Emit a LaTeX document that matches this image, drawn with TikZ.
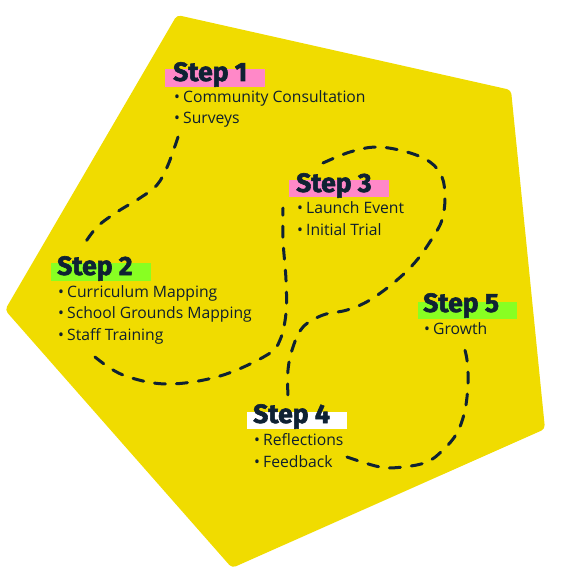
\documentclass[tikz,border=0pt]{standalone}
\usepackage{fontspec}
\setmainfont{Open Sans}
\newfontfamily\headfont{Fira Sans}[BoldFeatures={FakeBold=2.2}]
\definecolor{bgyellow}{HTML}{F0DC00}
\definecolor{navy}{HTML}{0F2233}
\definecolor{hlpink}{HTML}{FF88C8}
\definecolor{hlgreen}{HTML}{88FF22}
\tikzset{
  head/.style={anchor=base west, inner sep=0pt, text=navy, font=\headfont\bfseries\fontsize{26.5}{28}\selectfont},
  body/.style={anchor=base west, inner sep=0pt, text=navy!90!black, font=\fontsize{15.7}{18}\selectfont},
  trail/.style={draw=navy, line width=3pt, line cap=round, dash pattern=on 11pt off 11pt},
}
\newcommand{\bul}{\makebox[9pt][l]{•}}
\begin{document}
\begin{tikzpicture}[x=1pt,y=-1pt]
\useasboundingbox (0,0) rectangle (560,572);
% background pentagon
\fill[bgyellow, rounded corners=4pt] (177,15) -- (511,90) -- (545,429) -- (232,568) -- (5,310) -- cycle;
% highlight bars
\fill[hlpink]  (165,69) rectangle (265,87);
\fill[hlgreen] (51,263) rectangle (151,281);
\fill[hlpink]  (289,180) rectangle (389,197);
\fill[white]   (247,412) rectangle (347,429);
\fill[hlgreen] (418,302) rectangle (517,319);
% dashed trails
\coordinate (a0) at (178,137); \coordinate (a1) at (83,246);
\coordinate (b0) at (95,357);  \coordinate (b1) at (283,208);
\coordinate (c0) at (323,163); \coordinate (c1) at (288,398);
\coordinate (d0) at (347,457); \coordinate (d1) at (463,343);
\draw[trail] plot[smooth, tension=0.6] coordinates {(a0) (168,165) (157,185) (140,198) (117,212) (97,227) (a1)};
\draw[trail] plot[smooth, tension=0.6] coordinates {(b0) (123,375) (167,384) (220,376) (267,355) (280,340) (286,313) (286,280) (283,240) (b1)};
\draw[trail] plot[smooth, tension=0.6] coordinates {(c0) (350,152) (377,147) (407,152) (430,162) (442,177) (445,198) (442,220) (433,237) (417,260) (397,280) (370,300) (347,310) (323,315) (303,327) (293,347) (288,370) (c1)};
\draw[trail] plot[smooth, tension=0.6] coordinates {(d0) (380,467) (403,467) (427,462) (443,450) (457,433) (465,410) (468,383) (467,360) (d1)};
% step 1
\node[head] (s1) at (173,81) {Step 1};
\node[body] (s1a) at (174,103) {\bul Community Consultation};
\node[body] (s1b) at (174,124) {\bul Surveys};
% step 2
\node[head] (s2) at (57,275) {Step 2};
\node[body] (s2a) at (58,297) {\bul Curriculum Mapping};
\node[body] (s2b) at (58,318) {\bul School Grounds Mapping};
\node[body] (s2c) at (58,340) {\bul Staff Training};
% step 3
\node[head] (s3) at (296,192) {Step 3};
\node[body] (s3a) at (297,213) {\bul Launch Event};
\node[body] (s3b) at (297,235) {\bul Initial Trial};
% step 4
\node[head] (s4) at (253,423) {Step 4};
\node[body] (s4a) at (254,445) {\bul Reflections};
\node[body] (s4b) at (254,467) {\bul Feedback};
% step 5
\node[head] (s5) at (423,312) {Step 5};
\node[body] (s5a) at (424,334) {\bul Growth};
\end{tikzpicture}
\end{document}
